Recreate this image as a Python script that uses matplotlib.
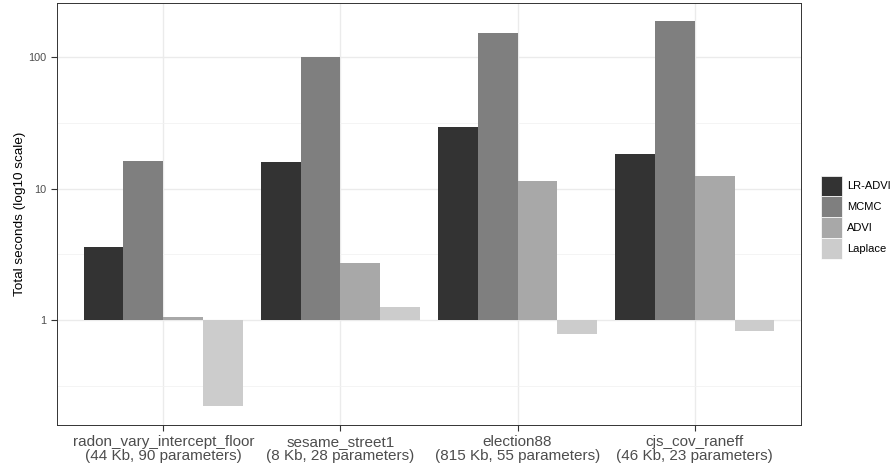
import matplotlib
matplotlib.use('Agg')
import matplotlib.pyplot as plt
import matplotlib.ticker as mticker
from matplotlib.patches import Patch
import numpy as np

plt.rcParams['font.family'] = ['Liberation Sans', 'DejaVu Sans']

models = ['radon_vary_intercept_floor\n(44 Kb, 90 parameters)',
          'sesame_street1\n(8 Kb, 28 parameters)',
          'election88\n(815 Kb, 55 parameters)',
          'cjs_cov_raneff\n(46 Kb, 23 parameters)']
methods = ['LR-ADVI', 'MCMC', 'ADVI', 'Laplace']
lr_advi = [3.6, 15.9, 29.4, 18.3]
mcmc = [16.3, 101, 152, 188]
advi = [1.05, 2.7, 11.4, 12.4]
laplace = [0.22, 1.26, 0.78, 0.82]
colors = ['#333333', '#7f7f7f', '#a8a8a8', '#cccccc']

fig = plt.figure(figsize=(8.91, 4.70), dpi=100)
ax = fig.add_axes([0.064, 0.096, 0.835, 0.898])

x = np.arange(len(models))
w = 0.225
for i, (vals, c) in enumerate(zip([lr_advi, mcmc, advi, laplace], colors)):
    vals = np.array(vals)
    ax.bar(x + (i - 1.5) * w, vals - 1, bottom=1, width=w, color=c,
           edgecolor='none', zorder=2)

ax.set_yscale('log')
ax.set_ylim(0.159, 259)
ax.set_xlim(-0.6, 3.6)
ax.yaxis.set_major_locator(mticker.FixedLocator([1, 10, 100]))
ax.yaxis.set_major_formatter(mticker.FixedFormatter(['1', '10', '100']))
ax.yaxis.set_minor_locator(mticker.FixedLocator([10 ** -0.5, 10 ** 0.5, 10 ** 1.5]))
ax.yaxis.set_minor_formatter(mticker.NullFormatter())
ax.set_xticks(x)
ax.set_xticklabels(models, fontsize=11, color='#4d4d4d', linespacing=1.0)
ax.tick_params(axis='y', which='major', labelsize=7.8, labelcolor='#4d4d4d',
               length=4, width=0.8, color='#333333')
ax.tick_params(axis='y', which='minor', length=0)
ax.tick_params(axis='x', length=4, width=0.8, color='#333333', pad=3)
ax.grid(True, which='major', color='#ebebeb', linewidth=1.0, zorder=0)
ax.grid(True, which='minor', axis='y', color='#f2f2f2', linewidth=0.6, zorder=0)
ax.set_axisbelow(True)
for s in ax.spines.values():
    s.set_color('#333333')
    s.set_linewidth(0.7)

ax.set_ylabel('Total seconds (log10 scale)', fontsize=9.7, labelpad=2)

handles = [Patch(facecolor=c, edgecolor='white', linewidth=0.5, label=m)
           for c, m in zip(colors, methods)]
fig.legend(handles=handles, loc='center left', bbox_to_anchor=(0.921, 0.538),
           frameon=False, fontsize=8.0, handlelength=1.9, handleheight=2.5,
           handletextpad=0.45, labelspacing=0.0, borderaxespad=0, borderpad=0)

fig.savefig('out.png', dpi=100)
